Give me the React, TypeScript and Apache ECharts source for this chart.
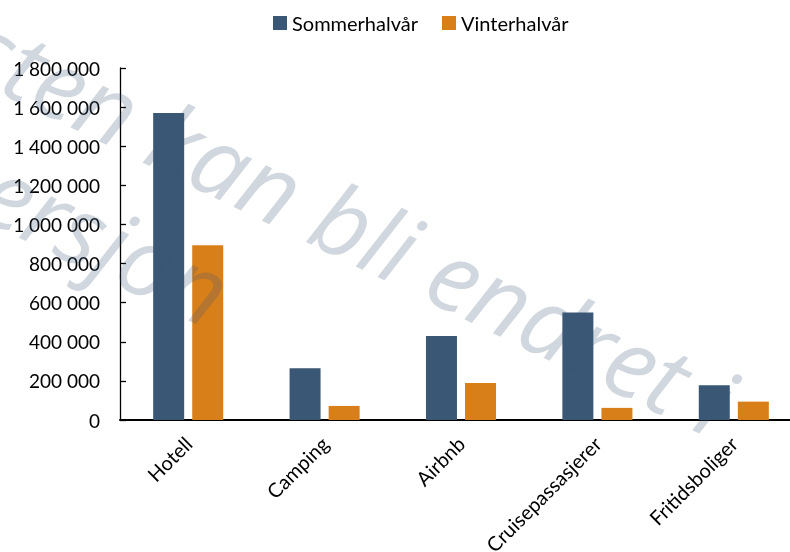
import React, { useEffect, useRef } from "react";
import * as echarts from "echarts";

const categories = ["Hotell", "Camping", "Airbnb", "Cruisepassasjerer", "Fritidsboliger"];
const seriesNames = ["Sommerhalvår", "Vinterhalvår"];
const summerValues = [1570000, 265000, 430000, 550000, 178000];
const winterValues = [893000, 72000, 189000, 62000, 94000];
const watermarkLines = ["Teksten kan bli endret i", "endelig versjon"];

const fmt = (v: number) => String(v).replace(/\B(?=(\d{3})+(?!\d))/g, " ");

export default function App() {
  const ref = useRef<HTMLDivElement>(null);
  useEffect(() => {
    if (!ref.current) return;
    const chart = echarts.init(ref.current, undefined, { renderer: "svg" });
    const rot = (-26 * Math.PI) / 180;
    const wmStyle = {
      font: 'italic 96px "Open Sans"',
      fill: "rgba(58,87,117,0.24)",
      align: "right",
      verticalAlign: "middle",
      textAlign: "right",
      textVerticalAlign: "middle",
    };
    chart.setOption({
      animation: false,
      textStyle: { fontFamily: "Lato" },
      legend: {
        top: 8,
        left: 268,
        itemWidth: 14,
        itemHeight: 14,
        itemGap: 24,
        icon: "rect",
        textStyle: { fontSize: 20, color: "#000", fontFamily: "Lato" },
        data: seriesNames,
      },
      grid: { left: 120, top: 68, bottom: 132, right: 0, containLabel: false, outerBoundsMode: "none" },
      xAxis: {
        type: "category",
        data: categories,
        axisLine: { lineStyle: { color: "#000", width: 2 } },
        axisTick: { show: false },
        axisLabel: { rotate: 45, margin: 20, fontSize: 20, color: "#000", fontFamily: "Lato", interval: 0 },
      },
      yAxis: {
        type: "value",
        min: 0,
        max: 1800000,
        interval: 200000,
        axisLine: { show: true, lineStyle: { color: "#000", width: 1.3 } },
        axisTick: { show: true, inside: true, length: 6, lineStyle: { color: "#000", width: 1.3 } },
        splitLine: { show: false },
        axisLabel: { margin: 20, fontSize: 19, color: "#000", fontFamily: "Lato", formatter: (v: number) => fmt(v) },
      },
      series: [
        {
          name: seriesNames[0],
          type: "bar",
          data: summerValues,
          barWidth: 31,
          barGap: "26%",
          itemStyle: { color: "#3a5775" },
        },
        {
          name: seriesNames[1],
          type: "bar",
          data: winterValues,
          barWidth: 31,
          barGap: "26%",
          itemStyle: { color: "#d97f19" },
        },
      ],
      graphic: [
        {
          type: "text",
          z: 100,
          silent: true,
          x: 728,
          y: 406,
          rotation: rot,
          style: { ...wmStyle, text: watermarkLines[0] },
        },
        {
          type: "text",
          z: 100,
          silent: true,
          x: 224,
          y: 296,
          rotation: rot,
          style: { ...wmStyle, text: watermarkLines[1] },
        },
      ],
    });
    return () => chart.dispose();
  }, []);
  return (
    <div style={{ position: "fixed", left: 0, top: 0, width: 790, height: 552, overflow: "hidden" }}>
      <div ref={ref} style={{ width: 802, height: 552 }} />
    </div>
  );
}
